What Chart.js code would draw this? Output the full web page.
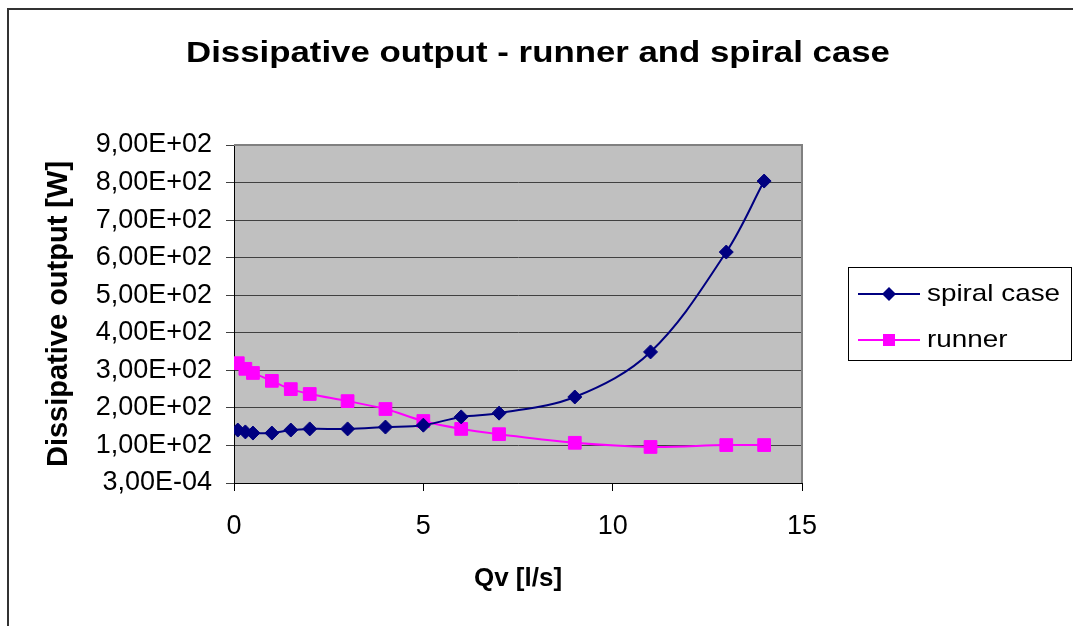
<!DOCTYPE html>
<html>
<head>
<meta charset="utf-8">
<script src="https://cdn.jsdelivr.net/npm/chart.js@4/dist/chart.umd.min.js"></script>
<style>
  body { margin: 0; background: #fff; }
  canvas { display: block; }
</style>
</head>
<body>
<canvas id="myChart" width="1073" height="626"></canvas>
<script>
// Data
const qv = [0.1, 0.3, 0.5, 1, 1.5, 2, 3, 4, 5, 6, 7, 9, 11, 13, 14];
const spiralCase = [141, 136, 133, 133, 141, 144, 144, 149, 154, 176, 186, 229, 349, 615, 804];
const runner = [319, 304, 293, 272, 250, 237, 218, 197, 165, 144, 130, 107, 96, 101, 101];
const yTickLabels = ['3,00E-04', '1,00E+02', '2,00E+02', '3,00E+02', '4,00E+02',
    '5,00E+02', '6,00E+02', '7,00E+02', '8,00E+02', '9,00E+02'];
const xTickLabels = ['0', '5', '10', '15'];

const FONT = "'Liberation Sans', Arial, sans-serif";

function points(xs, ys) {
    return xs.map((x, i) => ({ x: x, y: ys[i] }));
}

// the original picture is a bit wider than tall, so text is stretched sideways
function wideText(ctx, text, x, y, sx) {
    ctx.save();
    ctx.translate(x, y);
    ctx.scale(sx, 1);
    ctx.fillText(text, 0, 0);
    ctx.restore();
}

//Background, frames, title and legend
const decor = {
    id: 'decor',
    beforeDraw(chart) {
        const ctx = chart.ctx;
        const a = chart.chartArea;
        ctx.save();
        ctx.fillStyle = '#fff';
        ctx.fillRect(0, 0, chart.width, chart.height);
        ctx.fillStyle = '#C0C0C0';
        ctx.fillRect(a.left, a.top, a.right - a.left, a.bottom - a.top);
        ctx.restore();
    },
    afterDraw(chart) {
        const ctx = chart.ctx;
        const a = chart.chartArea;
        ctx.save();
        // plot frame (top/right grey)
        ctx.strokeStyle = '#808080';
        ctx.lineWidth = 2;
        ctx.beginPath();
        ctx.moveTo(a.left, a.top);
        ctx.lineTo(a.right, a.top);
        ctx.lineTo(a.right, a.bottom);
        ctx.stroke();
        // outer frame
        ctx.strokeStyle = '#333';
        ctx.lineWidth = 2;
        ctx.strokeRect(8, 9, 1200, 800);
        // title
        ctx.fillStyle = '#000';
        ctx.font = 'bold 30px ' + FONT;
        ctx.textAlign = 'center';
        ctx.textBaseline = 'middle';
        wideText(ctx, 'Dissipative output - runner and spiral case', 538, 54, 1.16);
        // legend
        ctx.strokeStyle = '#000';
        ctx.lineWidth = 1;
        ctx.strokeRect(848.5, 267.5, 223, 93);
        const rows = [294, 340];
        chart.data.datasets.forEach((ds, i) => {
            const y = rows[i];
            ctx.strokeStyle = ds.borderColor;
            ctx.lineWidth = 2;
            ctx.beginPath();
            ctx.moveTo(858, y);
            ctx.lineTo(920, y);
            ctx.stroke();
            ctx.fillStyle = ds.backgroundColor;
            ctx.beginPath();
            if (ds.pointStyle === 'rectRot') {
                ctx.moveTo(889 - 7, y);
                ctx.lineTo(889, y - 7);
                ctx.lineTo(889 + 7, y);
                ctx.lineTo(889, y + 7);
            } else {
                ctx.rect(883, y - 6, 12, 12);
            }
            ctx.closePath();
            ctx.fill();
            ctx.fillStyle = '#000';
            ctx.font = '24px ' + FONT;
            ctx.textAlign = 'left';
            ctx.textBaseline = 'middle';
            wideText(ctx, ds.label, 927, y, 1.16);
        });
        ctx.restore();
    }
};

const ctx = document.getElementById('myChart').getContext('2d');
const myChart = new Chart(ctx, {
    type: 'line',
    data: {
        datasets: [{
            label: 'spiral case',
            data: points(qv, spiralCase),
            borderColor: '#000080',
            backgroundColor: '#000080',
            borderWidth: 2,
            pointStyle: 'rectRot',
            pointRadius: 7,
            pointBorderWidth: 1,
            tension: 0.35
        }, {
            label: 'runner',
            data: points(qv, runner),
            borderColor: '#FF00FF',
            backgroundColor: '#FF00FF',
            borderWidth: 2,
            pointStyle: 'rect',
            pointRadius: 9,
            pointBorderWidth: 1,
            tension: 0.35
        }]
    },
    options: {
        responsive: false,
        animation: false,
        layout: { padding: { top: 145, right: 271, left: 0, bottom: 0 } },
        plugins: {
            legend: { display: false },
            title: { display: false },
            tooltip: { enabled: false }
        },
        scales: {
            x: {
                type: 'linear',
                min: 0,
                max: 15,
                afterFit: s => { s.height = 143; },
                afterBuildTicks: s => { s.ticks = xTickLabels.map(t => ({ value: Number(t) })); },
                ticks: {
                    color: '#000',
                    font: { family: FONT, size: 27 },
                    padding: 19,
                    callback: (v, i) => xTickLabels[i]
                },
                grid: { drawOnChartArea: false, color: '#000', tickLength: 8 },
                border: { color: '#000', width: 1 },
                title: {
                    display: true,
                    text: 'Qv [l/s]',
                    color: '#000',
                    font: { family: FONT, size: 26, weight: 'bold' },
                    padding: { top: 0, bottom: 32 }
                }
            },
            y: {
                min: 0,
                max: 900,
                afterFit: s => { s.width = 234; },
                ticks: {
                    stepSize: 100,
                    color: '#000',
                    font: { family: FONT, size: 27 },
                    padding: 14,
                    callback: (v) => yTickLabels[Math.round(v / 100)]
                },
                grid: { color: '#404040', lineWidth: 1, tickLength: 8 },
                border: { color: '#000', width: 1 },
                title: {
                    display: true,
                    text: 'Dissipative output [W]',
                    color: '#000',
                    font: { family: FONT, size: 29, weight: 'bold' },
                    padding: { top: 42, bottom: 0 }
                }
            }
        }
    },
    plugins: [decor]
});
</script>
</body>
</html>
